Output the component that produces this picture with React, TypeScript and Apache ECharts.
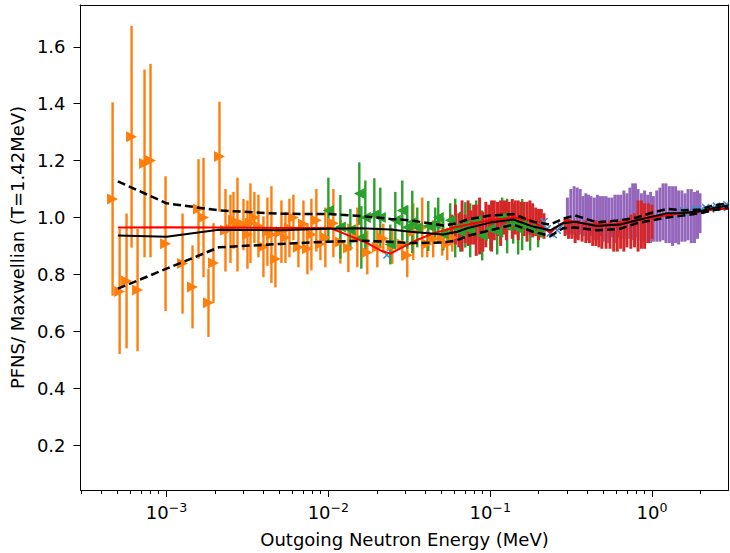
import React, { useEffect, useRef } from 'react';
import * as echarts from 'echarts';

// ---- axis ranges / ticks ----
const X_MIN = 2.94e-4;
const X_MAX = 2.97;
const Y_MIN = 0.042;
const Y_MAX = 1.747;
const yTicks = [0.2, 0.4, 0.6, 0.8, 1.0, 1.2, 1.4, 1.6];
const xMajorExp = [-3, -2, -1, 0];
const xMinorMantissa = [2, 3, 4, 5, 6, 7, 8, 9];

// ---- orange data (right triangles) ----
const orangeX = [4.64e-4, 5.13e-4, 5.66e-4, 6.08e-4, 6.62e-4, 7.31e-4, 7.96e-4, 9.86e-4, 1.256e-3, 1.447e-3, 1.576e-3, 1.692e-3, 1.816e-3, 1.95e-3, 2.124e-3, 2.313e-3, 2.484e-3, 2.592e-3, 2.744e-3, 2.988e-3, 3.162e-3, 3.3e-3, 3.49e-3, 3.697e-3, 3.97e-3, 4.2e-3, 4.447e-3, 4.708e-3, 5.128e-3, 5.43e-3, 5.745e-3, 6.08e-3, 6.53e-3, 7.013e-3, 7.422e-3, 7.855e-3, 8.43e-3, 8.93e-3, 9.58e-3, 1.074e-2, 1.186e-2, 1.329e-2, 1.51e-2, 1.74e-2, 2.007e-2, 2.185e-2, 2.484e-2, 2.862e-2, 3.073e-2, 3.347e-2, 3.803e-2, 4.084e-2, 4.446e-2, 5.055e-2, 5.428e-2, 5.83e-2];
const orangeY = [1.065, 0.74, 0.777, 1.284, 0.745, 1.19, 1.2, 0.908, 0.838, 0.756, 1.03, 1.0, 0.7, 0.84, 1.214, 0.955, 0.96, 0.99, 0.975, 0.975, 0.94, 0.98, 1.0, 0.97, 0.897, 0.95, 0.94, 0.854, 0.95, 0.93, 0.963, 1.0, 0.895, 0.977, 0.89, 0.94, 0.99, 0.907, 0.93, 0.98, 0.914, 0.893, 0.93, 0.877, 0.895, 0.926, 0.9, 0.907, 0.867, 0.95, 0.965, 0.907, 0.925, 0.93, 0.907, 0.93];
const orangeErr = [0.34, 0.22, 0.237, 0.39, 0.215, 0.33, 0.34, 0.237, 0.176, 0.146, 0.175, 0.21, 0.12, 0.14, 0.193, 0.145, 0.12, 0.1, 0.165, 0.09, 0.12, 0.14, 0.09, 0.11, 0.107, 0.12, 0.17, 0.1, 0.11, 0.09, 0.103, 0.08, 0.07, 0.083, 0.09, 0.126, 0.11, 0.057, 0.105, 0.12, 0.076, 0.085, 0.105, 0.077, 0.07, 0.052, 0.063, 0.058, 0.077, 0.1, 0.105, 0.047, 0.065, 0.064, 0.057, 0.05];

// ---- green data (left triangles) ----
const greenX = [1.0e-2, 1.186e-2, 1.367e-2, 1.553e-2, 1.598e-2, 1.692e-2, 1.923e-2, 2.094e-2, 2.414e-2, 2.592e-2, 2.862e-2, 3.073e-2, 3.3e-2, 3.543e-2, 4.143e-2, 4.576e-2, 4.775e-2, 5.128e-2, 5.663e-2, 6.081e-2, 6.53e-2, 7.013e-2, 7.525e-2, 8.196e-2, 8.925e-2, 0.1, 0.1105, 0.1186, 0.1273, 0.1387, 0.1489, 0.1576, 0.1766, 0.1978];
const greenY = [1.025, 0.967, 0.957, 1.084, 0.93, 1.0, 1.01, 1.0, 0.905, 0.99, 1.025, 0.966, 0.984, 0.965, 0.97, 0.977, 1.0, 0.942, 0.99, 0.963, 0.95, 0.974, 0.955, 0.99, 0.937, 0.96, 0.95, 1.0, 0.97, 0.978, 0.96, 0.975, 0.96, 0.947];
const greenErr = [0.115, 0.112, 0.073, 0.11, 0.11, 0.13, 0.128, 0.105, 0.07, 0.1, 0.105, 0.076, 0.11, 0.07, 0.088, 0.058, 0.07, 0.058, 0.06, 0.103, 0.07, 0.08, 0.095, 0.07, 0.088, 0.076, 0.08, 0.07, 0.096, 0.07, 0.09, 0.09, 0.076, 0.052];

// ---- red data ----
const redX = [0.058, 0.061, 0.064, 0.067, 0.07, 0.073, 0.076, 0.079, 0.082, 0.086, 0.09, 0.094, 0.098, 0.102, 0.106, 0.111, 0.116, 0.121, 0.126, 0.131, 0.137, 0.143, 0.149, 0.155, 0.162, 0.169, 0.176, 0.183, 0.191, 0.199, 0.207, 0.215,
  0.29, 0.305, 0.32, 0.335, 0.35, 0.37, 0.39, 0.41, 0.43, 0.45, 0.47, 0.49, 0.52, 0.55, 0.58, 0.61, 0.64, 0.67, 0.7, 0.74, 0.78, 0.82, 0.86, 0.9, 0.95, 1.0];
const redY = [0.96, 0.975, 0.955, 0.97, 0.96, 0.98, 0.965, 0.975, 0.955, 0.97, 0.95, 0.975, 0.985, 0.97, 0.99, 0.995, 0.98, 1.0, 0.99, 1.005, 0.995, 1.0, 0.99, 1.005, 0.995, 0.985, 1.0, 0.99, 0.985, 0.975, 0.98, 0.97,
  0.965, 0.96, 0.955, 0.95, 0.955, 0.945, 0.95, 0.945, 0.94, 0.945, 0.935, 0.94, 0.935, 0.94, 0.93, 0.935, 0.94, 0.935, 0.945, 0.95, 0.955, 0.97, 0.975, 0.97, 0.98, 0.985];
const redErr = [0.05, 0.07, 0.06, 0.09, 0.05, 0.08, 0.06, 0.07, 0.09, 0.1, 0.07, 0.08, 0.06, 0.09, 0.07, 0.06, 0.08, 0.06, 0.07, 0.05, 0.07, 0.06, 0.07, 0.05, 0.06, 0.07, 0.06, 0.06, 0.05, 0.055, 0.05, 0.045,
  0.03, 0.035, 0.03, 0.04, 0.035, 0.03, 0.04, 0.035, 0.04, 0.045, 0.04, 0.05, 0.045, 0.05, 0.05, 0.055, 0.05, 0.055, 0.05, 0.06, 0.06, 0.09, 0.085, 0.08, 0.07, 0.06];

// ---- purple data ----
const purpleX = [0.3, 0.315, 0.33, 0.345, 0.36, 0.375, 0.39, 0.405, 0.42, 0.44, 0.46, 0.48, 0.5, 0.52, 0.54, 0.565, 0.59, 0.615, 0.64, 0.67, 0.7, 0.73, 0.76, 0.79, 0.82, 0.86, 0.9, 0.94, 0.98, 1.02, 1.07, 1.12, 1.17, 1.22, 1.28, 1.34, 1.4, 1.46, 1.53, 1.6, 1.67, 1.75, 1.83, 1.91, 1.98];
const purpleY = [1.005, 1.02, 1.025, 1.015, 1.02, 1.005, 1.01, 1.0, 1.005, 0.995, 1.0, 1.005, 0.995, 1.0, 0.99, 1.0, 0.995, 1.005, 1.0, 1.01, 1.005, 1.015, 1.02, 1.025, 1.01, 1.0, 1.005, 0.995, 1.0, 0.995, 1.005, 1.01, 1.02, 1.015, 1.01, 1.005, 1.01, 1.0, 1.005, 1.0, 1.01, 1.005, 1.0, 1.01, 1.015];
const purpleErr = [0.065, 0.08, 0.085, 0.09, 0.08, 0.07, 0.075, 0.08, 0.07, 0.075, 0.08, 0.07, 0.08, 0.075, 0.08, 0.07, 0.085, 0.075, 0.08, 0.085, 0.08, 0.09, 0.1, 0.095, 0.09, 0.085, 0.09, 0.085, 0.09, 0.08, 0.09, 0.095, 0.1, 0.105, 0.1, 0.105, 0.1, 0.095, 0.09, 0.085, 0.09, 0.095, 0.09, 0.085, 0.07];

// ---- blue data (x markers) ----
const blueX = [0.023, 0.205, 0.215, 0.225, 0.235, 0.245, 0.26, 0.275, 1.55, 1.7, 1.85, 2.0, 2.15, 2.3, 2.5, 2.7, 2.9];
const blueY = [0.868, 0.97, 0.985, 0.96, 0.945, 0.94, 0.955, 0.97, 1.025, 1.02, 1.03, 1.025, 1.035, 1.03, 1.04, 1.035, 1.045];

// ---- model curves ----
const curveX = [5e-4, 1e-3, 2.1e-3, 5e-3, 1e-2, 1.58e-2, 2.42e-2, 3.21e-2, 5.13e-2, 6.26e-2, 7.21e-2, 0.1, 0.139, 0.184, 0.235, 0.282, 0.335, 0.457, 0.634, 0.808, 1.0, 1.24, 1.55, 1.98, 2.38, 2.97];
const meanY = [0.937, 0.932, 0.957, 0.955, 0.96, 0.962, 0.958, 0.95, 0.94, 0.95, 0.962, 0.982, 0.993, 0.968, 0.955, 0.98, 0.985, 0.97, 0.975, 0.99, 1.003, 1.015, 1.016, 1.022, 1.033, 1.042];
const upperY = [1.127, 1.05, 1.025, 1.013, 1.012, 1.005, 0.995, 0.99, 0.972, 0.98, 0.993, 1.007, 1.012, 0.985, 0.975, 0.996, 1.007, 0.983, 0.99, 1.0, 1.017, 1.03, 1.025, 1.028, 1.042, 1.05];
const lowerY = [0.75, 0.82, 0.895, 0.907, 0.915, 0.918, 0.915, 0.91, 0.912, 0.92, 0.935, 0.955, 0.975, 0.95, 0.935, 0.962, 0.965, 0.955, 0.96, 0.98, 0.99, 1.0, 1.007, 1.015, 1.025, 1.035];
const redLineX = [5e-4, 1e-3, 2e-3, 5e-3, 1.03e-2, 1.33e-2, 1.74e-2, 2.1e-2, 2.42e-2, 2.86e-2, 3.5e-2, 4.5e-2, 6e-2, 8e-2, 0.1, 0.14, 0.18, 0.205, 0.235, 0.27, 0.3, 0.4, 0.6, 0.8, 1.0, 1.5, 2.0, 2.5, 2.97];
const redLineY = [0.965, 0.966, 0.965, 0.963, 0.963, 0.937, 0.91, 0.884, 0.873, 0.895, 0.92, 0.945, 0.965, 0.98, 0.99, 1.0, 0.99, 0.97, 0.947, 0.975, 0.99, 0.975, 0.975, 0.99, 1.0, 1.015, 1.02, 1.03, 1.03];

const FONT = 'DejaVu Sans';
const C_ORANGE = '#ff7f0e';
const C_GREEN = '#2ca02c';
const C_RED = '#d62728';
const C_PURPLE = '#9467bd';
const C_BLUE = '#3b8fd4';

function errorBars(xs: number[], ys: number[], es: number[], color: string, width: number) {
  return {
    type: 'custom',
    xAxisIndex: 0,
    yAxisIndex: 0,
    clip: true,
    silent: true,
    data: xs.map((x, i) => [x, ys[i], es[i]]),
    encode: { x: 0, y: 1 },
    renderItem: (_p: any, api: any) => {
      const x = api.value(0);
      const y = api.value(1);
      const e = api.value(2);
      const a = api.coord([x, y + e]);
      const b = api.coord([x, y - e]);
      return {
        type: 'line',
        shape: { x1: a[0], y1: a[1], x2: b[0], y2: b[1] },
        style: { stroke: color, lineWidth: width },
      };
    },
  };
}

function markers(xs: number[], ys: number[], color: string, rotate: number) {
  return {
    type: 'scatter',
    xAxisIndex: 0,
    yAxisIndex: 0,
    silent: true,
    symbol: 'triangle',
    symbolSize: 11,
    symbolRotate: rotate,
    itemStyle: { color, opacity: 1 },
    data: xs.map((x, i) => [x, ys[i]]),
  };
}

function crosses(xs: number[], ys: number[], color: string) {
  return {
    type: 'custom',
    xAxisIndex: 0,
    yAxisIndex: 0,
    clip: true,
    silent: true,
    data: xs.map((x, i) => [x, ys[i]]),
    encode: { x: 0, y: 1 },
    renderItem: (_p: any, api: any) => {
      const c = api.coord([api.value(0), api.value(1)]);
      const s = 3.5;
      const st = { stroke: color, lineWidth: 1.5 };
      return {
        type: 'group',
        children: [
          { type: 'line', shape: { x1: c[0] - s, y1: c[1] - s, x2: c[0] + s, y2: c[1] + s }, style: st },
          { type: 'line', shape: { x1: c[0] - s, y1: c[1] + s, x2: c[0] + s, y2: c[1] - s }, style: st },
        ],
      };
    },
  };
}

function curve(xs: number[], ys: number[], color: string, width: number, dashed: boolean) {
  return {
    type: 'line',
    xAxisIndex: 0,
    yAxisIndex: 0,
    silent: true,
    symbol: 'none',
    showSymbol: false,
    data: xs.map((x, i) => [x, ys[i]]),
    lineStyle: { color, width, type: dashed ? [8, 4] : 'solid' },
    z: 5,
  };
}

export default function App() {
  const ref = useRef<HTMLDivElement>(null);
  useEffect(() => {
    if (!ref.current) return;
    const chart = echarts.init(ref.current, undefined, { renderer: 'svg' });
    const logMin = Math.log10(X_MIN);
    const logMax = Math.log10(X_MAX);
    const minor: number[] = [];
    for (let p = -4; p <= 0; p++) {
      for (const m of xMinorMantissa) {
        const v = Math.log10(m) + p;
        if (v >= logMin && v <= logMax) minor.push(v);
      }
    }
    const gridRect = { left: 80, right: 1.5, top: 5, bottom: 63, containLabel: false };
    const noSplit = { show: false };
    const spine = { show: true, onZero: false, lineStyle: { color: '#000', width: 1 } };
    chart.setOption({
      animation: false,
      backgroundColor: '#ffffff',
      textStyle: { fontFamily: FONT },
      grid: [gridRect, { ...gridRect }],
      xAxis: [
        { gridIndex: 0, type: 'log', logBase: 10, min: X_MIN, max: X_MAX, position: 'top', show: false, axisLine: { onZero: false }, splitLine: noSplit },
        {
          gridIndex: 0, type: 'value', min: logMin, max: logMax, position: 'bottom',
          axisLine: spine,
          axisTick: { show: true, length: 7, customValues: xMajorExp, lineStyle: { color: '#000', width: 1 } },
          axisLabel: {
            customValues: xMajorExp, margin: 11, color: '#000',
            formatter: (v: number) => `{b|10}{s|${v < 0 ? '\u2212' : ''}${Math.abs(Math.round(v))}}`,
            rich: {
              b: { fontSize: 18, fontFamily: FONT, color: '#000' },
              s: { fontSize: 12.6, fontFamily: FONT, color: '#000', padding: [0, 0, 10, 0] },
            },
          },
          splitLine: noSplit,
          name: 'Outgoing Neutron Energy (MeV)', nameLocation: 'middle', nameGap: 40,
          nameTextStyle: { fontSize: 18, fontFamily: FONT, color: '#000' },
        },
        {
          gridIndex: 1, type: 'value', min: logMin, max: logMax, position: 'bottom',
          axisLine: { show: false, onZero: false },
          axisTick: { show: true, length: 4, customValues: minor, lineStyle: { color: '#000', width: 1 } },
          axisLabel: { show: false },
          splitLine: noSplit,
        },
        {
          gridIndex: 1, type: 'value', min: logMin, max: logMax, position: 'top',
          axisLine: spine,
          axisTick: { show: false }, axisLabel: { show: false }, splitLine: noSplit,
        },
      ],
      yAxis: [
        {
          gridIndex: 0, type: 'value', min: Y_MIN, max: Y_MAX, position: 'left',
          axisLine: spine,
          axisTick: { show: true, length: 7, customValues: yTicks, lineStyle: { color: '#000', width: 1 } },
          axisLabel: { customValues: yTicks, formatter: (v: number) => v.toFixed(1), fontSize: 18, fontFamily: FONT, color: '#000', margin: 15 },
          splitLine: noSplit,
          name: 'PFNS/ Maxwellian (T=1.42MeV)', nameLocation: 'middle', nameGap: 49, nameRotate: 90,
          nameTextStyle: { fontSize: 18, fontFamily: FONT, color: '#000' },
        },
        {
          gridIndex: 0, type: 'value', min: Y_MIN, max: Y_MAX, position: 'right',
          axisLine: spine,
          axisTick: { show: false }, axisLabel: { show: false }, splitLine: noSplit,
        },
        {
          gridIndex: 1, type: 'value', min: Y_MIN, max: Y_MAX, show: false, axisLine: { onZero: false }, splitLine: noSplit,
        },
      ],
      series: [
        errorBars(orangeX, orangeY, orangeErr, C_ORANGE, 2.4),
        markers(orangeX, orangeY, C_ORANGE, -90),
        errorBars(greenX, greenY, greenErr, C_GREEN, 2.4),
        markers(greenX, greenY, C_GREEN, 90),
        errorBars(purpleX, purpleY, purpleErr, C_PURPLE, 3),
        errorBars(redX, redY, redErr, C_RED, 3),
        crosses(blueX, blueY, C_BLUE),
        curve(redLineX, redLineY, '#ff0000', 2, false),
        curve(curveX, meanY, '#000000', 2, false),
        curve(curveX, upperY, '#000000', 2.5, true),
        curve(curveX, lowerY, '#000000', 2.5, true),
      ],
    });
    return () => chart.dispose();
  }, []);
  return <div ref={ref} style={{ position: 'fixed', left: 0, top: 0, width: 730, height: 553 }} />;
}
